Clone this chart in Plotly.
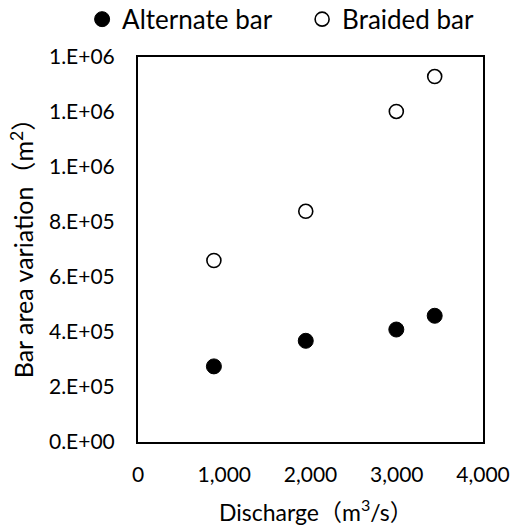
import plotly.graph_objects as go

discharge = [880, 1945, 2995, 3440]
alternate_bar = [2.75e5, 3.68e5, 4.09e5, 4.59e5]
braided_bar = [6.6e5, 8.39e5, 1.202e6, 1.329e6]

y_tickvals = [0, 2e5, 4e5, 6e5, 8e5, 1.0e6, 1.2e6, 1.4e6]
y_ticktext = ["0.E+00", "2.E+05", "4.E+05", "6.E+05", "8.E+05", "1.E+06", "1.E+06", "1.E+06"]
x_tickvals = [0, 1000, 2000, 3000, 4000]

FONT = "Lato, 'Noto Sans', 'Noto Sans CJK JP', sans-serif"

fig = go.Figure()
fig.add_trace(go.Scatter(
    x=discharge, y=alternate_bar, mode="markers", name="Alternate bar",
    marker=dict(symbol="circle", size=15, color="black", line=dict(color="black", width=1)),
))
fig.add_trace(go.Scatter(
    x=discharge, y=braided_bar, mode="markers", name="Braided bar",
    marker=dict(symbol="circle", size=14, color="white", line=dict(color="black", width=1.6)),
))

fig.update_layout(
    width=515, height=529,
    margin=dict(l=138, r=32, t=57, b=87, autoexpand=False),
    paper_bgcolor="white", plot_bgcolor="white",
    font=dict(family=FONT, size=21, color="black"),
    showlegend=True,
    legend=dict(orientation="h", x=-0.162, xanchor="left", y=1.037, yanchor="bottom",
                font=dict(size=26), traceorder="normal", bgcolor="rgba(0,0,0,0)",
                entrywidth=175),
    xaxis=dict(
        range=[0, 4000], tickvals=x_tickvals, tickformat=",", automargin=False,
        showgrid=False, zeroline=False, showline=True, linecolor="black", linewidth=2,
        mirror=True, ticks="", ticklabelstandoff=13,
    ),
    yaxis=dict(
        range=[0, 1.4e6], tickvals=y_tickvals, ticktext=y_ticktext, automargin=False,
        showgrid=False, zeroline=False, showline=True, linecolor="black", linewidth=2,
        mirror=True, ticks="", ticklabelstandoff=17,
    ),
    annotations=[
        dict(text="Discharge（m<sup>3</sup>/s）", xref="paper", yref="paper",
             x=0.517, y=-0.179, xanchor="center", yanchor="middle", showarrow=False,
             font=dict(size=23)),
        dict(text="Bar area variation（m<sup>2</sup>）", xref="paper", yref="paper",
             x=-0.336, y=0.519, xanchor="center", yanchor="middle", showarrow=False,
             textangle=-90, font=dict(size=25)),
    ],
)

fig.write_html("out.html", post_script="document.body.style.margin='0px';",
               config={"displayModeBar": False})
